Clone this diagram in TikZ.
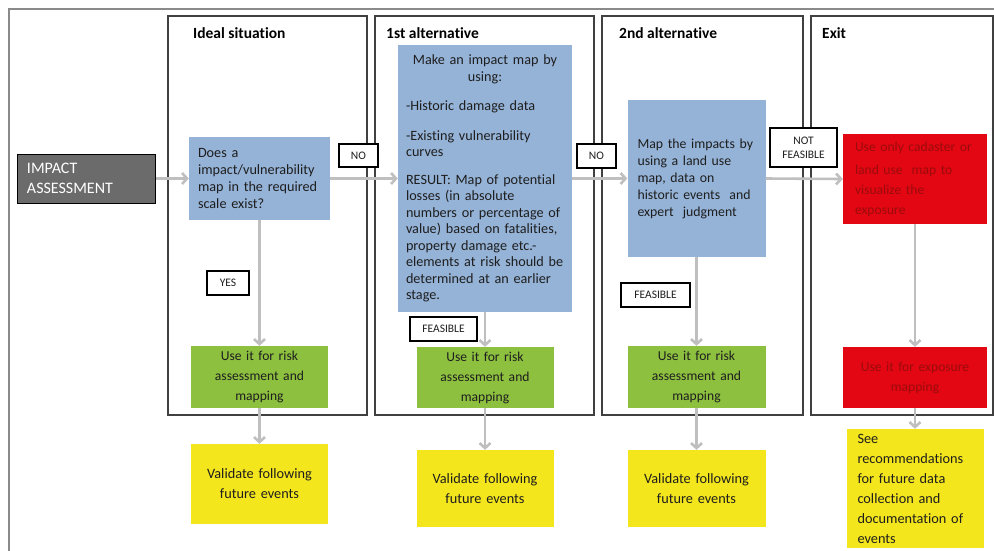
\documentclass[tikz,border=0pt]{standalone}
\usepackage{fontspec}
\setmainfont{Carlito}[Ligatures=NoCommon]
\usetikzlibrary{arrows.meta}
\definecolor{boxblue}{HTML}{95B3D7}
\definecolor{boxgreen}{HTML}{8DC03F}
\definecolor{boxyellow}{HTML}{F4E61C}
\definecolor{boxred}{HTML}{E30613}
\definecolor{redtext}{HTML}{9A0C0C}
\definecolor{boxdark}{HTML}{6B6B6B}
\definecolor{flowgray}{HTML}{BFBFBF}
\definecolor{panelgray}{HTML}{404040}
\definecolor{framegray}{HTML}{8A8A8A}
\definecolor{bodytext}{HTML}{1E1E1E}
\begin{document}
\begin{tikzpicture}[x=1pt,y=-1pt,
  box/.style={rectangle, inner sep=0pt, text=bodytext,
    font=\fontsize{14.2}{17}\selectfont},
  wide/.style={font=\fontsize{13.6}{20}\selectfont},
  widebig/.style={font=\fontsize{14.3}{20}\selectfont},
  lab/.style={rectangle, draw=black, line width=1.2pt, fill=white,
    inner sep=0pt, align=center, text=bodytext,
    font=\fontsize{11.5}{14}\selectfont},
  panel/.style={draw=panelgray, line width=1.4pt},
  title/.style={anchor=base west, inner sep=0pt, text=black,
    font=\fontsize{15.5}{18}\selectfont\bfseries},
  flow/.style={draw=flowgray, line width=2.6pt,
    -{Straight Barb[length=5pt,width=11pt]}}]
\useasboundingbox (0,0) rectangle (994,550);

% outer frame (runs off the page at right and bottom)
\draw[framegray, line width=2pt] (9,560) -- (9,9) -- (1000,9);

% the four columns
\draw[panel] (168,16) rectangle (367,415);
\draw[panel] (375,16) rectangle (594,415);
\draw[panel] (602,16) rectangle (803,415);
\draw[panel] (811,16) rectangle (993,415);

\node[title] (t1) at (193,38) {Ideal situation};
\node[title] (t2) at (386,38) {1st alternative};
\node[title] (t3) at (619,38) {2nd alternative};
\node[title] (t4) at (822,38) {Exit};

% start
\node[box, fill=boxdark, draw=black, line width=1pt, text=white, align=left,
  font=\fontsize{16}{20}\selectfont,
  minimum width=138pt, minimum height=49pt, text width=118pt]
  (imp) at (86,178.5) {IMPACT\\ASSESSMENT};

% ideal situation
\node[box, fill=boxblue, align=left, minimum width=141pt, minimum height=83pt,
  text width=123pt] (q) at (259.5,178.5)
  {Does a\\impact/vulnerability\\map in the required\\scale exist?};
\node[box, wide, fill=boxgreen, align=center, minimum width=137pt,
  minimum height=62pt, text width=127pt] (g1) at (259.5,377)
  {Use it for risk\\assessment and\\mapping};
\node[box, widebig, fill=boxyellow, align=center, minimum width=137pt,
  minimum height=80pt, text width=127pt] (y1) at (259.5,484)
  {Validate following\\future events};

% 1st alternative
\node[box, fill=boxblue, align=left, minimum width=174pt, minimum height=267pt,
  text width=158pt, font=\fontsize{14.2}{16.5}\selectfont] (b1) at (485,178.5)
  {{\centering Make an impact map by\\using:\par}
   \vspace{13pt}
   -Historic damage data\par
   \vspace{13pt}
   -Existing vulnerability\\curves\par
   \vspace{11pt}
   RESULT: Map of potential\\losses (in absolute\\numbers or percentage of\\value) based on fatalities,\\property damage etc.-\\elements at risk should be\\determined at an earlier\\stage.};
\node[box, wide, fill=boxgreen, align=center, minimum width=137pt,
  minimum height=61pt, text width=127pt] (g2) at (485,377.5)
  {Use it for risk\\assessment and\\mapping};
\node[box, widebig, fill=boxyellow, align=center, minimum width=137pt,
  minimum height=77pt, text width=127pt] (y2) at (485,488.5)
  {Validate following\\future events};

% 2nd alternative
\node[box, fill=boxblue, align=left, minimum width=138pt, minimum height=157pt,
  text width=118pt, font=\fontsize{13.8}{17}\selectfont] (b2) at (696.5,178.5)
  {Map the impacts by\\using a land use\\map, data on\\historic events~ and\\expert~ judgment};
\node[box, wide, fill=boxgreen, align=center, minimum width=138pt,
  minimum height=62pt, text width=128pt] (g3) at (696.5,377)
  {Use it for risk\\assessment and\\mapping};
\node[box, widebig, fill=boxyellow, align=center, minimum width=138pt,
  minimum height=77pt, text width=128pt] (y3) at (696.5,488.5)
  {Validate following\\future events};

% exit
\node[box, wide, fill=boxred, text=redtext, align=left, minimum width=144pt,
  minimum height=90pt, text width=120pt] (r1) at (915,179)
  {\vspace{3pt}Use only cadaster or\\land use~ map to\\visualize the\\exposure};
\node[box, wide, fill=boxred, text=redtext, align=center, minimum width=144pt,
  minimum height=61pt, text width=134pt] (r2) at (915,377.5)
  {Use it for exposure\\mapping};
\node[box, widebig, fill=boxyellow, align=left, minimum width=137pt,
  minimum height=119pt, text width=115pt] (y4) at (915,488.5)
  {See\\recommendations\\for future data\\collection and\\documentation of\\events};

% decision labels
\node[lab, minimum width=39pt, minimum height=23pt] (no1) at (358.5,155.5) {NO};
\node[lab, minimum width=39pt, minimum height=24pt] (no2) at (596.5,156) {NO};
\node[lab, minimum width=67pt, minimum height=39pt] (nf) at (803.5,147.5) {NOT\\FEASIBLE};
\node[lab, minimum width=42pt, minimum height=24pt] (yes) at (228,283) {YES};
\node[lab, minimum width=67pt, minimum height=24pt] (f1) at (443.5,329) {FEASIBLE};
\node[lab, minimum width=69pt, minimum height=24pt] (f2) at (655.5,295) {FEASIBLE};

% flow
\draw[flow] (imp.east) -- (q.west);
\draw[flow] (q.east) -- (b1.west);
\draw[flow] (b1.east) -- (b2.west);
\draw[flow] (b2.east) -- (r1.west);
\draw[flow] (q.south) -- (g1.north);
\draw[flow] (g1.south) -- (y1.north);
\draw[flow] (b1.south) -- (g2.north);
\draw[flow] (g2.south) -- (y2.north);
\draw[flow] (b2.south) -- (g3.north);
\draw[flow] (g3.south) -- (y3.north);
\draw[flow] (r1.south) -- (r2.north);
\draw[flow] (r2.south) -- (y4.north);
\end{tikzpicture}
\end{document}
